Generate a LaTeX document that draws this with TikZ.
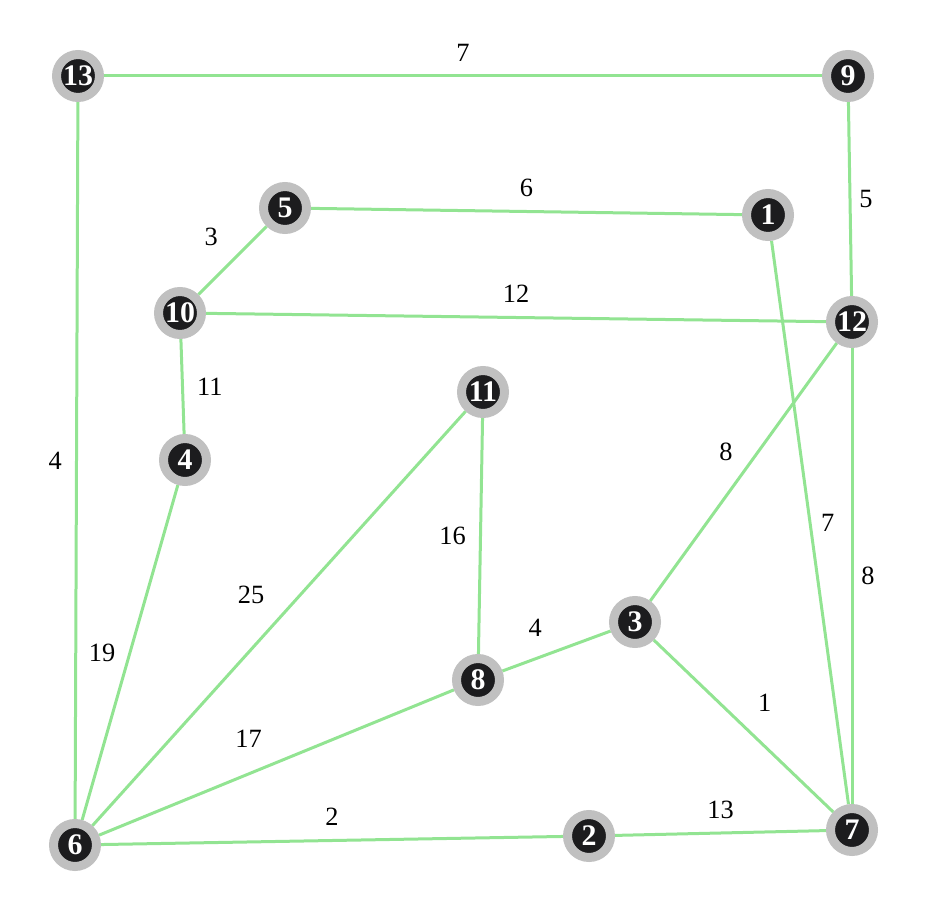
\documentclass[tikz,border=0pt]{standalone}
\usepackage{fontspec}
\setmainfont{Liberation Serif}
\usetikzlibrary{backgrounds}
\definecolor{ring}{RGB}{192,192,192}
\definecolor{core}{RGB}{28,28,30}
\definecolor{edgegreen}{RGB}{146,228,146}
\tikzset{
  vtx/.style={circle, fill=core, draw=ring, line width=0.18cm, minimum size=0.86cm, inner sep=0pt,
    text=white, font=\fontsize{17}{17}\selectfont\bfseries},
  wt/.style={font=\fontsize{15}{18}\selectfont},
  every label/.style={font=\fontsize{15}{18}\selectfont}
}
\begin{document}
\begin{tikzpicture}[x=0.02cm, y=-0.02cm]
\useasboundingbox (0,0) rectangle (926,902);

\node[vtx] (13) at (78,76) {13};
\node[vtx] (9) at (848,76) {9};
\node[vtx] (5) at (285,208) {5};
\node[vtx] (1) at (768,215) {1};
\node[vtx] (10) at (180,313) {10};
\node[vtx] (12) at (852,322) {12};
\node[vtx] (11) at (483,392) {11};
\node[vtx] (4) at (185,460) {4};
\node[vtx] (3) at (635,622) {3};
\node[vtx] (8) at (478,680) {8};
\node[vtx] (6) at (75,845) {6};
\node[vtx] (2) at (589,836) {2};
\node[vtx] (7) at (852,830) {7};

\begin{scope}[on background layer, every path/.style={draw=edgegreen, line width=0.06cm}]
\path[draw] (13) -- node[wt,label=above:7] {} (9);
\path[draw] (9) -- node[wt,label={[label distance=-3pt]right:5}] {} (12);
\path[draw] (5) -- node[wt,label=above:6] {} (1);
\path[draw] (5) -- node[wt,label=above left:3] {} (10);
\path[draw] (10) -- node[wt,label=above:12] {} (12);
\path[draw] (10) -- node[wt,label=right:11] {} (4);
\path[draw] (13) -- node[wt,label=left:4] {} (6);
\path[draw] (4) -- node[wt,label=left:19] {} (6);
\path[draw] (11) -- node[wt,label=above left:25] {} (6);
\path[draw] (11) -- node[wt,label=left:16] {} (8);
\path[draw] (12) -- node[wt,label={[label distance=-3pt]above left:8}] {} (3);
\path[draw] (1) -- node[wt,label={[label distance=-2pt]right:7}] {} (7);
\path[draw] (12) -- node[wt,label={[label distance=-3pt]right:8}] {} (7);
\path[draw] (8) -- node[wt,label=above left:4] {} (3);
\path[draw] (3) -- node[wt,label=above right:1] {} (7);
\path[draw] (6) -- node[wt,label=above left:17] {} (8);
\path[draw] (6) -- node[wt,label=above:2] {} (2);
\path[draw] (2) -- node[wt,label=above:13] {} (7);
\end{scope}
\end{tikzpicture}
\end{document}
